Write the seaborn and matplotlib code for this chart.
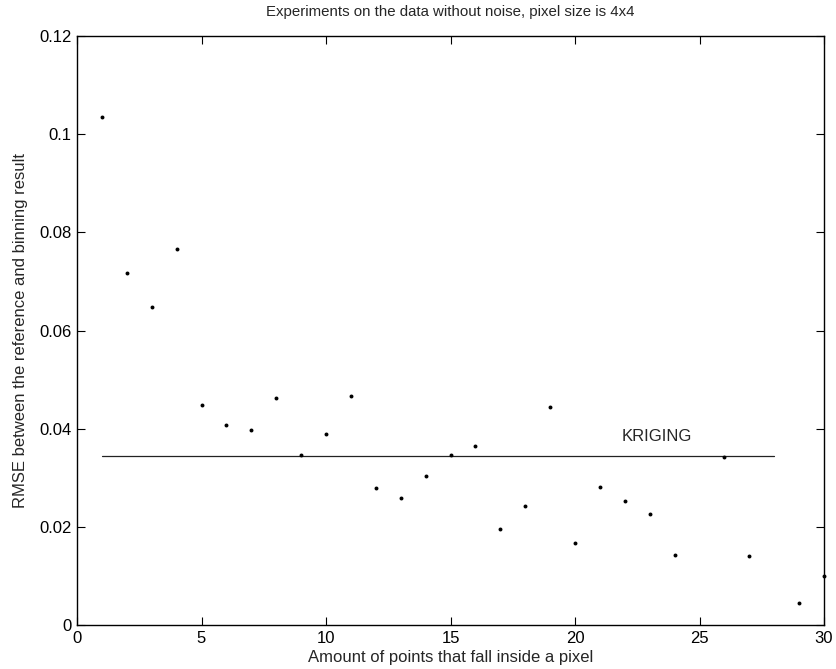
import numpy as np
import pandas as pd
import matplotlib
matplotlib.use("Agg")
import matplotlib.pyplot as plt
import seaborn as sns

# Measured RMSE per number of points falling inside a pixel (25 and 28 have no result)
counts = [1, 2, 3, 4, 5, 6, 7, 8, 9, 10, 11, 12, 13, 14, 15, 16, 17, 18, 19, 20,
          21, 22, 23, 24, 26, 27, 29, 30]
rmse = [0.1035, 0.0717, 0.0647, 0.0766, 0.0449, 0.0407, 0.0398, 0.0462, 0.0347, 0.0390,
        0.0467, 0.0280, 0.0259, 0.0303, 0.0347, 0.0364, 0.0197, 0.0243, 0.0444, 0.0167,
        0.0281, 0.0254, 0.0227, 0.0143, 0.0342, 0.0142, 0.0045, 0.0100]

# Kriging reference level, drawn across the range of counts
kriging_x = [1, 28]
kriging_rmse = [0.0344, 0.0344]

x_ticks = [0, 5, 10, 15, 20, 25, 30]
y_ticks = [0, 0.02, 0.04, 0.06, 0.08, 0.1, 0.12]
y_tick_labels = ["0", "0.02", "0.04", "0.06", "0.08", "0.1", "0.12"]

sns.set_style("white")
plt.rcParams["font.family"] = ["Liberation Sans", "DejaVu Sans"]

fig = plt.figure(figsize=(8.37, 6.69), dpi=100)
ax = fig.add_axes([0.092, 0.0653, 0.8925, 0.8813])

df = pd.DataFrame({"count": counts, "rmse": rmse})
kdf = pd.DataFrame({"count": kriging_x, "rmse": kriging_rmse})

sns.lineplot(data=kdf, x="count", y="rmse", ax=ax, color="#222222", linewidth=0.9)
sns.scatterplot(data=df, x="count", y="rmse", ax=ax, color="black", s=8,
                edgecolor="black", linewidth=0, zorder=3, clip_on=False)

ax.text(23.3, 0.0385, "KRIGING", ha="center", va="center", fontsize=12)

ax.set_xlim(0, 30)
ax.set_ylim(0, 0.12)
ax.set_xticks(x_ticks)
ax.set_xticklabels([str(t) for t in x_ticks])
ax.set_yticks(y_ticks)
ax.set_yticklabels(y_tick_labels)

ax.tick_params(direction="in", length=6, width=0.8, color="black",
               top=True, right=True, bottom=True, left=True,
               labelsize=12, pad=4, labelcolor="black")
for s in ax.spines.values():
    s.set_visible(True)
    s.set_color("black")
    s.set_linewidth(1.0)

ax.set_xlabel("Amount of points that fall inside a pixel", fontsize=12, labelpad=3)
ax.set_ylabel("RMSE between the reference and binning result", fontsize=12, labelpad=8)
ax.set_title("Experiments on the data without noise, pixel size is 4x4", fontsize=10.8, pad=14)

fig.savefig("out.png", dpi=100, facecolor="white")
